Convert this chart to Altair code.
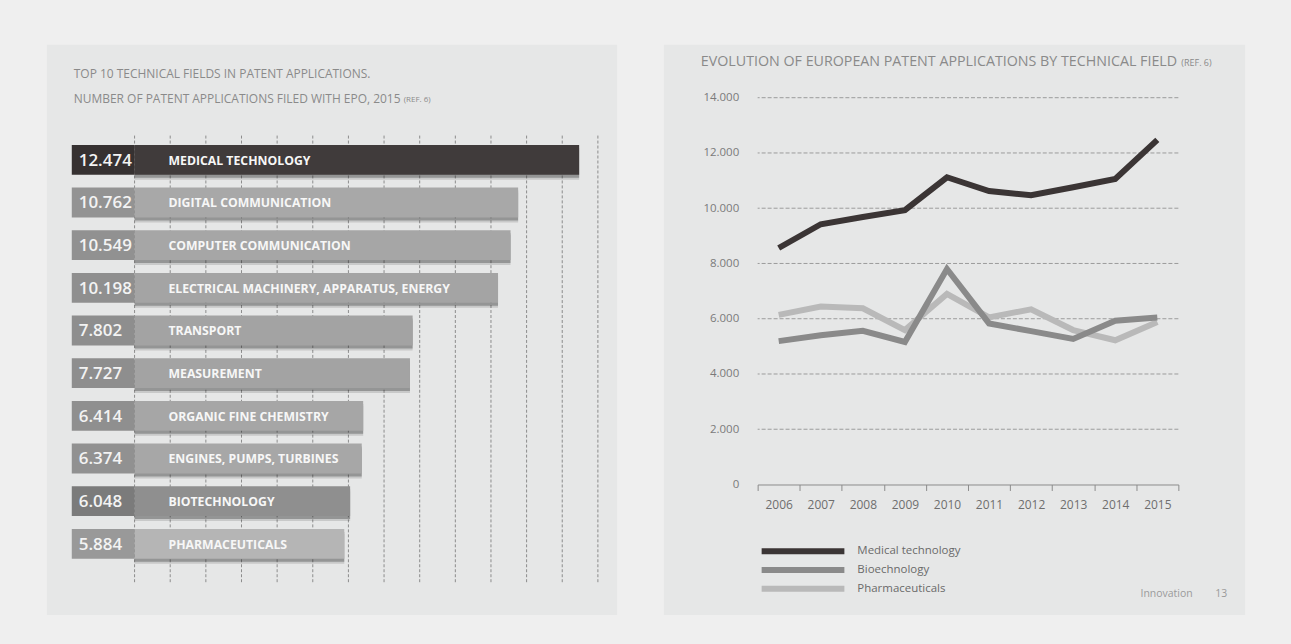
import altair as alt
import pandas as pd

# ---------------- data ----------------
FIELDS = [
    "MEDICAL TECHNOLOGY",
    "DIGITAL COMMUNICATION",
    "COMPUTER COMMUNICATION",
    "ELECTRICAL MACHINERY, APPARATUS, ENERGY",
    "TRANSPORT",
    "MEASUREMENT",
    "ORGANIC FINE CHEMISTRY",
    "ENGINES, PUMPS, TURBINES",
    "BIOTECHNOLOGY",
    "PHARMACEUTICALS",
]
APPLICATIONS_2015 = [12474, 10762, 10549, 10198, 7802, 7727, 6414, 6374, 6048, 5884]
GRID_X = [0, 1000, 2000, 3000, 4000, 5000, 6000, 7000, 8000, 9000, 10000, 11000, 12000, 13000]

YEARS = ["2006", "2007", "2008", "2009", "2010", "2011", "2012", "2013", "2014", "2015"]
SERIES = ["Medical technology", "Bioechnology", "Pharmaceuticals"]
MEDICAL = [8560, 9420, 9680, 9930, 11120, 10620, 10470, 10760, 11060, 12474]
BIOTECH = [5190, 5400, 5560, 5160, 7800, 5830, 5550, 5270, 5930, 6048]
PHARMA = [6140, 6440, 6380, 5590, 6900, 6050, 6340, 5590, 5220, 5884]
Y_TICKS = [0, 2000, 4000, 6000, 8000, 10000, 12000, 14000]

LEFT_TITLE_1 = "TOP 10 TECHNICAL FIELDS IN PATENT APPLICATIONS."
LEFT_TITLE_2 = "NUMBER OF PATENT APPLICATIONS FILED WITH EPO, 2015"
RIGHT_TITLE = "EVOLUTION OF EUROPEAN PATENT APPLICATIONS BY TECHNICAL FIELD"
REF = "(REF. 6)"
FOOTER = "Innovation"
PAGE = "13"

# ---------------- styles ----------------
FONT = "Open Sans"
PANEL = "#e6e7e7"
PAGE_BG = "#efefef"
BAR_COLORS = ["#403b3b", "#a8a8a8", "#a6a6a6", "#a4a4a4", "#a3a3a3",
              "#a3a3a3", "#a6a6a6", "#a7a7a7", "#8f8f8f", "#b5b5b5"]
BOX_COLORS = ["#363131", "#939393", "#919191", "#8f8f8f", "#8e8e8e",
              "#8e8e8e", "#8f8f8f", "#919191", "#7b7b7b", "#999999"]
LINE_COLORS = ["#3b3535", "#8a8a8a", "#b9b9b9"]
TITLE_COLOR = "#8a8a8a"

one = pd.DataFrame({"t": [""]})


def label(text, x, y, size, color=TITLE_COLOR, align="left", weight="normal"):
    return alt.Chart(pd.DataFrame({"t": [text]})).mark_text(
        align=align, baseline="middle", font=FONT, fontSize=size, color=color, fontWeight=weight
    ).encode(x=alt.value(x), y=alt.value(y), text="t:N")


# ---------------- left panel ----------------
W1, H1 = 539, 488
bar_df = pd.DataFrame({"field": FIELDS, "value": APPLICATIONS_2015})
bar_df["label"] = [f"{v:,}".replace(",", ".") for v in APPLICATIONS_2015]

xs = alt.Scale(domain=[-1762, 13315], nice=False, zero=False)
ys = alt.Scale(domain=FIELDS, paddingInner=0.3, paddingOuter=0.851, align=0.65)
Y1 = alt.Y("field:N", sort=FIELDS, scale=ys, axis=None)

panel1 = alt.Chart(one).mark_rect(color=PANEL).encode(
    x=alt.value(-25), x2=alt.value(547), y=alt.value(-53), y2=alt.value(519)
)
grid1 = alt.Chart(pd.DataFrame({"g": GRID_X})).mark_rule(
    color="#8c8c8c", strokeDash=[3, 2], strokeWidth=1
).encode(x=alt.X("g:Q", scale=xs, axis=None), y=alt.value(38), y2=alt.value(488))

base = alt.Chart(bar_df)
shadow_a = base.mark_bar(color="#2a2a2a", opacity=0.16, yOffset=5).encode(
    x=alt.X("value:Q", scale=xs, axis=None), x2=alt.value(4), y=Y1
)
shadow_b = base.mark_bar(color="#2a2a2a", opacity=0.33, yOffset=3).encode(
    x=alt.X("value:Q", scale=xs, axis=None), x2=alt.value(2), y=Y1
)
bars = base.mark_bar().encode(
    x=alt.X("value:Q", scale=xs, axis=None),
    x2=alt.value(0),
    y=Y1,
    color=alt.Color("field:N", scale=alt.Scale(domain=FIELDS, range=BAR_COLORS), legend=None),
)
boxes = base.mark_bar().encode(
    x=alt.datum(0),
    x2=alt.value(0),
    y=Y1,
    fill=alt.Fill("field:N", scale=alt.Scale(domain=FIELDS, range=BOX_COLORS), legend=None),
)
nums = base.mark_text(
    align="left", baseline="middle", font=FONT, fontSize=17, fontWeight=600, color="#f3f3f3", dy=1
).encode(x=alt.value(7), y=Y1, text="label:N")
names = base.mark_text(
    align="left", baseline="middle", font=FONT, fontSize=12.3, fontWeight="bold", color="#f7f7f7", dy=1
).encode(x=alt.value(97), y=Y1, text="field:N")

lt1 = label(LEFT_TITLE_1, 2, -24, 12)
lt2 = label(LEFT_TITLE_2, 2, 1, 12)
lt3 = label(REF, 333, 2, 8)

left = alt.layer(
    panel1, grid1, shadow_a, shadow_b, bars, boxes, nums, names, lt1, lt2, lt3
).properties(width=W1, height=H1)

# ---------------- right panel ----------------
W2, H2 = 422, 388
line_df = pd.DataFrame({
    "year": YEARS * 3,
    "series": [s for s in SERIES for _ in YEARS],
    "value": MEDICAL + BIOTECH + PHARMA,
})
xs2 = alt.Scale(domain=YEARS, paddingInner=0, paddingOuter=0)
ys2 = alt.Scale(domain=[0, 14000], nice=False, zero=True)
cs2 = alt.Scale(domain=SERIES, range=LINE_COLORS)

XAX = alt.Axis(
    title=None, tickBand="extent", labelAngle=0, grid=False,
    domainColor="#8c8c8c", tickColor="#8c8c8c", tickSize=6, domainWidth=1, tickWidth=1,
    labelFont=FONT, labelFontSize=12, labelColor="#6e6e6e", labelPadding=9, zindex=1,
)
YAX = alt.Axis(
    title=None, values=Y_TICKS, grid=False, domain=False, ticks=False, tickSize=0,
    labelExpr="replace(format(datum.value, ','), ',', '.')",
    labelFont=FONT, labelFontSize=11.5, labelColor="#7a7a7a", labelPadding=19, zindex=1,
)

panel2 = alt.Chart(one).mark_rect(color=PANEL).encode(
    x=alt.value(-94), x2=alt.value(489), y=alt.value(-53), y2=alt.value(519)
)
grid2 = alt.Chart(pd.DataFrame({"g": Y_TICKS[1:]})).mark_rule(
    color="#9c9c9c", strokeDash=[4, 2], strokeWidth=1
).encode(y=alt.Y("g:Q", scale=ys2, axis=YAX))

line_layers = []
for s in ["Pharmaceuticals", "Bioechnology", "Medical technology"]:
    line_layers.append(
        alt.Chart(line_df).transform_filter(alt.datum.series == s).mark_line(
            strokeWidth=6, strokeJoin="miter", strokeCap="butt"
        ).encode(
            x=alt.X("year:O", sort=YEARS, scale=xs2, axis=XAX),
            y=alt.Y("value:Q", scale=ys2, axis=YAX),
            color=alt.Color("series:N", scale=cs2, legend=None),
        )
    )

legend_layers = []
for i, s in enumerate(SERIES):
    yy = 455 + 18.8 * i
    ldf = pd.DataFrame({"series": [s]})
    legend_layers.append(
        alt.Chart(ldf).mark_rule(strokeWidth=6, strokeCap="butt").encode(
            x=alt.value(4), x2=alt.value(87), y=alt.value(yy),
            color=alt.Color("series:N", scale=cs2, legend=None),
        )
    )
    legend_layers.append(
        alt.Chart(ldf).mark_text(
            align="left", baseline="middle", font=FONT, fontSize=11.5, color="#6a6a6a"
        ).encode(x=alt.value(100), y=alt.value(yy), text="series:N")
    )

rt1 = label(RIGHT_TITLE, -57, -36, 14.3)
rt2 = label(REF, 425, -35, 9)
ft1 = label(FOOTER, 384, 498, 10.5, color="#9a9a9a")
ft2 = label(PAGE, 459, 498, 10.5, color="#9a9a9a")

right = alt.layer(
    panel2, grid2, *line_layers, *legend_layers, rt1, rt2, ft1, ft2
).properties(width=W2, height=H2)

chart = alt.hconcat(left, right, spacing=45).resolve_scale(
    color="independent", fill="independent"
).properties(
    padding={"left": 46, "top": 43, "right": 45, "bottom": 29},
    background=PAGE_BG,
).configure_view(stroke="transparent")

chart.save("out.html", embed_options={"renderer": "svg", "actions": False})
